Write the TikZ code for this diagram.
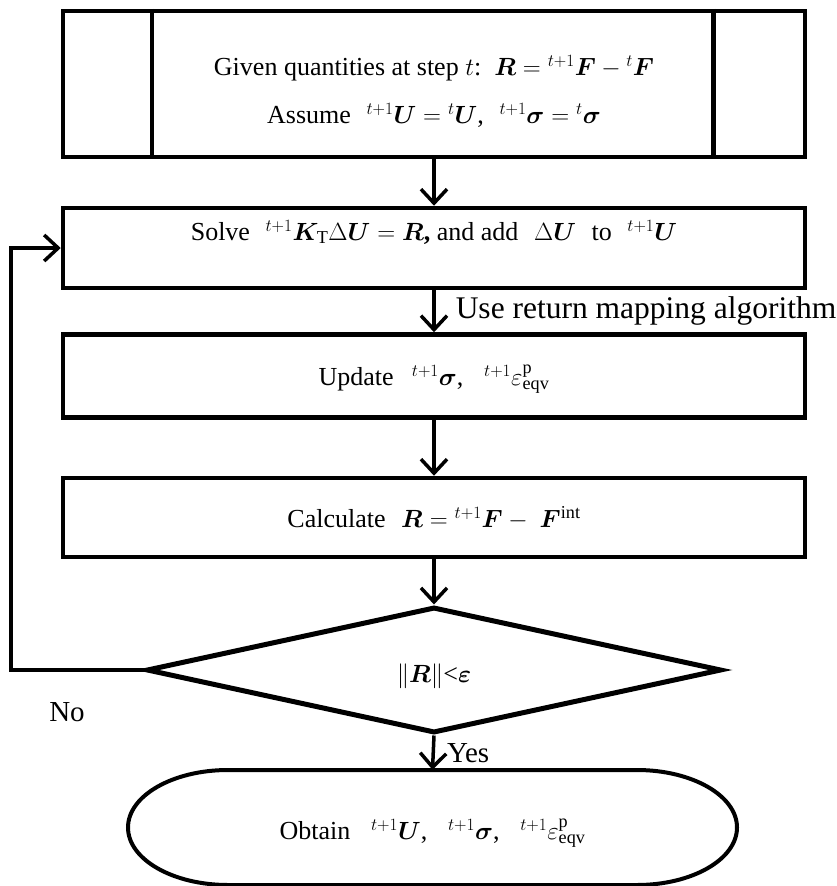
\documentclass[tikz,border=0pt]{standalone}
\usepackage{amsmath}
\usepackage{bm}
\usepackage{fontspec}
\setmainfont{Liberation Serif}
\usetikzlibrary{arrows.meta,shapes.geometric}
\begin{document}
\begin{tikzpicture}[x=1pt,y=-1pt,
  box/.style={draw, line width=4.5pt, minimum width=742pt, inner sep=0pt},
  arr/.style={line width=3.5pt, -{Straight Barb[length=14pt,width=26pt]}},
  txt/.style={font=\fontsize{26}{30}\selectfont, inner sep=0pt},
  lbl/.style={font=\fontsize{29}{33}\selectfont, inner sep=0pt}]
\useasboundingbox (0,0) rectangle (836,886);

% initial box
\node[box, minimum height=146pt] (init) at (434,84) {};
\draw[line width=4.5pt] ([xshift=91pt]init.north west) -- ([xshift=91pt]init.south west);
\draw[line width=4.5pt] ([xshift=-94pt]init.north east) -- ([xshift=-94pt]init.south east);
\node[txt] (l1) at (434,68) {Given quantities at step $t$:\ \ $\bm{R} = {}^{t+1}\bm{F} - {}^{t}\bm{F}$};
\node[txt] (l2) at (434,115) {Assume\hspace{0.6em}${}^{t+1}\bm{U} = {}^{t}\bm{U}$,\hspace{0.6em}${}^{t+1}\bm{\sigma} = {}^{t}\bm{\sigma}$};

% solve box
\node[box, minimum height=80pt] (solve) at (434,248) {};
\node[txt] (solvetxt) at (434,232) {Solve\hspace{0.6em}${}^{t+1}\bm{K}_{\mathrm{T}}\Delta\bm{U} = \bm{R}$\textbf{,} and add\hspace{0.6em}$\Delta\bm{U}$\hspace{0.6em}to\hspace{0.6em}${}^{t+1}\bm{U}$};

% update box
\node[box, minimum height=83pt] (update) at (434,376) {};
\node[txt] (updtxt) at (434,379) {Update\hspace{0.7em}${}^{t+1}\bm{\sigma}$,\hspace{0.8em}${}^{t+1}\varepsilon^{\mathrm{p}}_{\mathrm{eqv}}$};

% calculate box
\node[box, minimum height=79pt] (calc) at (434,517.5) {};
\node[txt] (calctxt) at (434,518) {Calculate\hspace{0.6em}$\bm{R} = {}^{t+1}\bm{F} -\ \bm{F}^{\mathrm{int}}$};

% decision
\node[draw, diamond, line width=5pt, minimum width=575pt, minimum height=126pt, inner sep=0pt] (dec) at (434,670) {};
\node[txt] (dectxt) at (434,676) {$\Vert\bm{R}\Vert$<$\bm{\varepsilon}$};

% terminal
\node[minimum width=609pt, minimum height=115pt] (term) at (432.5,827.5) {};
\draw[line width=4pt] (228,770) .. controls (172.8,770) and (128,795.7) .. (128,827.5)
  .. controls (128,859.3) and (172.8,885) .. (228,885) -- (637,885)
  .. controls (692.2,885) and (737,859.3) .. (737,827.5)
  .. controls (737,795.7) and (692.2,770) .. (637,770) -- cycle;
\node[txt] (termtxt) at (432.5,833) {Obtain\hspace{0.8em}${}^{t+1}\bm{U}$,\hspace{0.8em}${}^{t+1}\bm{\sigma}$,\hspace{0.8em}${}^{t+1}\varepsilon^{\mathrm{p}}_{\mathrm{eqv}}$};

% connectors
\draw[arr] (init) -- (solve);
\draw[arr] (solve) -- node[lbl, font=\fontsize{31.5}{35}\selectfont, midway, anchor=west, xshift=20pt] (map) {Use return mapping algorithm} (update);
\draw[arr] (update) -- (calc);
\draw[arr] (calc) -- (dec);
\draw[arr] (dec.south) -- node[lbl, midway, anchor=west, xshift=12pt] (yes) {Yes} (term.north);
\draw[arr] (dec.west) -- ++(-133,0) coordinate (loopc) |- (solve.west);
\node[lbl] (no) at (67,712) {No};
\end{tikzpicture}
\end{document}
